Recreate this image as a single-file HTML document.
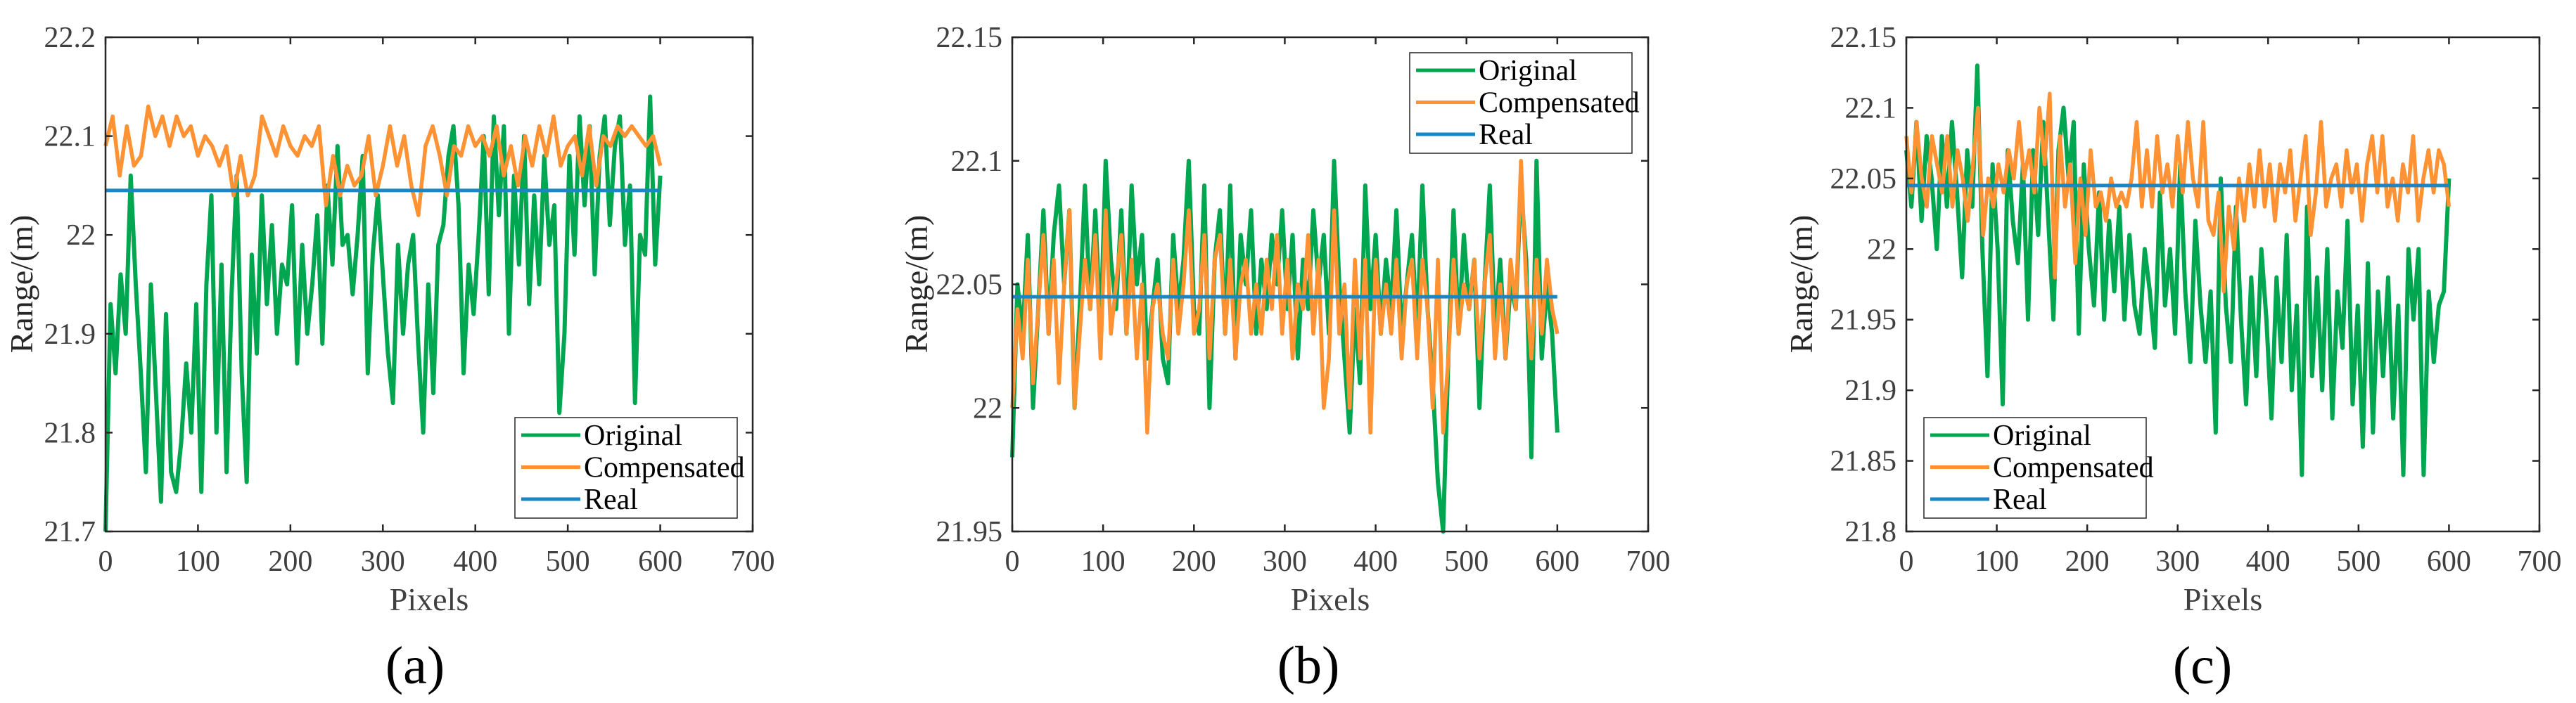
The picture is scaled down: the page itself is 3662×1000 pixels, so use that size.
<!DOCTYPE html>
<html><head><meta charset="utf-8">
<style>
html,body{margin:0;padding:0;background:#fff;}
svg{display:block;font-family:"Liberation Serif","Times New Roman",serif;}
svg text{font-family:"Liberation Serif","Times New Roman",serif !important;}
</style></head>
<body>
<svg id="fig" width="3662" height="1000" viewBox="0 0 3662 1000" xmlns="http://www.w3.org/2000/svg" font-family="Liberation Serif, serif"></svg>
<script>
const xTicks = [0,100,200,300,400,500,600,700];
const realValue = 22.045;
const aTicks = ["21.7","21.8","21.9","22","22.1","22.2"];
const bTicks = ["21.95","22","22.05","22.1","22.15"];
const cTicks = ["21.8","21.85","21.9","21.95","22","22.05","22.1","22.15"];
const aOriginal = [21.70,21.93,21.86,21.96,21.90,22.06,21.95,21.86,21.76,21.95,21.84,21.73,21.92,21.76,21.74,21.79,21.87,21.80,21.93,21.74,21.95,22.04,21.80,21.97,21.76,21.94,22.06,21.86,21.75,21.98,21.88,22.04,21.93,22.01,21.90,21.97,21.95,22.03,21.87,21.99,21.90,21.95,22.02,21.89,22.05,21.97,22.09,21.99,22.00,21.94,22.00,22.08,21.86,21.98,22.04,21.96,21.88,21.83,21.99,21.90,21.97,22.00,21.89,21.80,21.95,21.84,21.99,22.01,22.08,22.11,22.03,21.86,21.97,21.92,22.00,22.10,21.94,22.12,22.02,22.11,21.90,22.06,21.97,22.10,21.93,22.04,21.95,22.08,21.99,22.03,21.82,21.90,22.08,21.98,22.12,22.03,22.11,21.96,22.08,22.12,22.01,22.09,22.12,21.99,22.05,21.83,22.00,21.98,22.14,21.97,22.06];
const aCompensated = [22.09,22.12,22.06,22.11,22.07,22.08,22.13,22.10,22.12,22.09,22.12,22.10,22.11,22.08,22.10,22.09,22.07,22.09,22.04,22.08,22.04,22.06,22.12,22.10,22.08,22.11,22.09,22.08,22.10,22.09,22.11,22.03,22.08,22.04,22.07,22.05,22.06,22.10,22.04,22.07,22.11,22.07,22.10,22.05,22.02,22.09,22.11,22.08,22.04,22.09,22.08,22.11,22.09,22.10,22.08,22.11,22.06,22.09,22.05,22.10,22.07,22.11,22.08,22.12,22.07,22.09,22.10,22.06,22.11,22.05,22.10,22.09,22.11,22.10,22.11,22.10,22.09,22.10,22.07];
const bOriginal = [21.98,22.05,22.03,22.07,22.00,22.04,22.08,22.03,22.07,22.09,22.05,22.08,22.00,22.04,22.09,22.04,22.08,22.03,22.10,22.06,22.04,22.08,22.03,22.09,22.05,22.07,22.02,22.04,22.06,22.02,22.01,22.07,22.04,22.06,22.10,22.04,22.03,22.09,22.00,22.06,22.08,22.03,22.09,22.02,22.07,22.05,22.08,22.03,22.06,22.04,22.07,22.05,22.08,22.04,22.07,22.02,22.06,22.04,22.08,22.05,22.07,22.03,22.10,22.05,22.02,21.99,22.04,22.01,22.09,22.04,22.07,22.03,22.06,22.04,22.08,22.03,22.05,22.07,22.03,22.09,22.04,22.01,21.97,21.95,22.02,22.08,22.03,22.07,22.04,22.06,22.00,22.05,22.09,22.03,22.06,22.02,22.05,22.04,22.09,22.06,21.98,22.10,22.02,22.05,22.03,21.99];
const bCompensated = [22.00,22.04,22.02,22.06,22.01,22.04,22.07,22.03,22.06,22.01,22.05,22.08,22.00,22.03,22.06,22.04,22.07,22.02,22.08,22.03,22.05,22.07,22.03,22.06,22.02,22.05,21.99,22.04,22.05,22.03,22.02,22.06,22.03,22.05,22.08,22.03,22.04,22.07,22.02,22.06,22.07,22.03,22.06,22.02,22.05,22.06,22.03,22.05,22.03,22.06,22.04,22.07,22.03,22.06,22.02,22.05,22.04,22.07,22.03,22.06,22.00,22.02,22.08,22.03,22.05,22.00,22.06,22.02,22.06,21.99,22.06,22.03,22.05,22.03,22.06,22.02,22.05,22.06,22.02,22.06,22.04,22.00,22.06,21.99,22.02,22.06,22.03,22.05,22.04,22.06,22.02,22.05,22.07,22.02,22.05,22.02,22.06,22.04,22.10,22.05,22.02,22.06,22.03,22.06,22.04,22.03];
const cOriginal = [22.07,22.03,22.09,22.02,22.08,22.05,22.00,22.08,22.03,22.09,22.04,21.98,22.07,22.03,22.13,22.00,21.91,22.06,22.00,21.89,22.07,22.02,21.99,22.06,21.95,22.07,22.01,22.09,22.02,21.95,22.07,22.10,22.05,22.09,21.94,22.06,22.00,21.96,22.04,21.95,22.02,21.97,22.03,21.95,22.01,21.96,21.94,22.00,21.97,21.93,22.04,21.96,22.00,21.94,22.06,21.97,21.92,22.02,21.96,21.92,21.97,21.87,22.05,21.96,21.92,22.03,21.95,21.89,21.98,21.91,22.00,21.95,21.88,21.98,21.92,22.01,21.90,21.96,21.84,22.03,21.91,21.98,21.90,22.00,21.88,21.97,21.93,22.02,21.89,21.96,21.86,21.99,21.87,21.97,21.91,21.98,21.88,21.96,21.84,22.00,21.95,22.00,21.84,21.97,21.92,21.96,21.97,22.05];
const cCompensated = [22.08,22.04,22.09,22.05,22.03,22.08,22.06,22.04,22.08,22.03,22.07,22.05,22.02,22.06,22.10,22.01,22.05,22.03,22.06,22.04,22.07,22.05,22.09,22.05,22.07,22.04,22.10,22.06,22.11,21.98,22.08,22.03,22.06,21.99,22.05,22.01,22.07,22.03,22.04,22.02,22.05,22.03,22.04,22.03,22.05,22.09,22.03,22.07,22.03,22.08,22.04,22.06,22.03,22.08,22.04,22.09,22.05,22.03,22.09,22.02,22.01,22.04,21.97,22.03,22.00,22.05,22.02,22.06,22.03,22.07,22.03,22.06,22.02,22.06,22.04,22.07,22.02,22.05,22.08,22.01,22.04,22.09,22.03,22.05,22.06,22.03,22.07,22.04,22.06,22.02,22.06,22.08,22.04,22.08,22.03,22.05,22.02,22.06,22.04,22.08,22.02,22.05,22.07,22.04,22.07,22.06,22.03];

const NS = "http://www.w3.org/2000/svg";
const svg = document.getElementById('fig');
const FONT = "Liberation Serif, serif";
function mk(tag, attrs, parent){
  const e = document.createElementNS(NS, tag);
  for (const k in attrs) e.setAttribute(k, attrs[k]);
  if (tag === 'text') e.setAttribute('font-family', FONT);
  (parent||svg).appendChild(e);
  return e;
}
const GREEN="#00A650", ORANGE="#FF9233", BLUE="#1A87C4";

function panel(cfg){
  const g = mk('g', {});
  
  
  const L=cfg.left, R=cfg.right, T=53, B=756;
  const yMin=parseFloat(cfg.yTicks[0]), yMax=parseFloat(cfg.yTicks[cfg.yTicks.length-1]);
  const xs = v => L + (v-0)/(700-0)*(R-L);
  const ys = v => B - (v-yMin)/(yMax-yMin)*(B-T);
  function series(data, color, w, name){
    const n = data.length;
    let d = '';
    data.forEach((v,i)=>{ d += (i?'L':'M') + xs(i*600/(n-1)).toFixed(1) + ',' + ys(v).toFixed(1); });
    const p = mk('path', {d:d, fill:'none', stroke:color, 'stroke-width':w, 'stroke-linejoin':'round'}, g);
    
    
  }
  series(cfg.orig, GREEN, 6, 'original-line-' + cfg.id);
  series(cfg.comp, ORANGE, 5.5, 'compensated-line-' + cfg.id);
  const rl = mk('line', {x1:xs(0), x2:xs(600), y1:ys(realValue), y2:ys(realValue), stroke:BLUE, 'stroke-width':5}, g);
  
  
  const box = mk('rect', {x:L, y:T, width:R-L, height:B-T, fill:'none', stroke:'#262626', 'stroke-width':2.5}, g);
  
  
  xTicks.forEach(t=>{
    const x = xs(t);
    mk('line', {x1:x,x2:x,y1:B,y2:B-10,stroke:'#262626','stroke-width':2.5}, g);
    mk('line', {x1:x,x2:x,y1:T,y2:T+10,stroke:'#262626','stroke-width':2.5}, g);
    const tx = mk('text', {x:x, y:B+56, 'font-size':42, 'text-anchor':'middle', fill:'#404040'}, g);
    tx.textContent = t;
    
    
  });
  cfg.yTicks.forEach(t=>{
    const y = ys(parseFloat(t));
    mk('line', {x1:L,x2:L+10,y1:y,y2:y,stroke:'#262626','stroke-width':2.5}, g);
    mk('line', {x1:R,x2:R-10,y1:y,y2:y,stroke:'#262626','stroke-width':2.5}, g);
    const ty = mk('text', {x:L-14, y:y+14, 'font-size':42, 'text-anchor':'end', fill:'#404040'}, g);
    ty.textContent = t;
    
    
  });
  const xt = mk('text', {x:(L+R)/2, y:868, 'font-size':46, 'text-anchor':'middle', fill:'#404040'}, g);
  xt.textContent = 'Pixels';
  
  
  const yt = mk('text', {x:0, y:0, 'font-size':46, 'text-anchor':'middle', fill:'#262626', transform:'translate(' + cfg.yTitleX + ',404) rotate(-90)'}, g);
  yt.textContent = 'Range/(m)';
  
  
  const cap = mk('text', {x:cfg.capX, y:972, 'font-size':76, 'text-anchor':'middle', fill:'#000'}, g);
  cap.textContent = cfg.cap;
  
  
  const lg = mk('g', {}, g);
  
  
  const lx = cfg.legX, ly = cfg.legY;
  mk('rect', {x:lx, y:ly, width:316, height:143, fill:'#fff', stroke:'#262626', 'stroke-width':1.5}, lg);
  [['Original',GREEN],['Compensated',ORANGE],['Real',BLUE]].forEach((e,i)=>{
    const yy = ly + 25 + i*45.5;
    mk('line', {x1:lx+9, x2:lx+93, y1:yy, y2:yy, stroke:e[1], 'stroke-width':5}, lg);
    const t = mk('text', {x:lx+98, y:yy+14, 'font-size':42, fill:'#000'}, lg);
    t.textContent = e[0];
    
    
  });
}
panel({id:'a', left:150, right:1070, yTicks:aTicks, orig:aOriginal, comp:aCompensated, legX:732, legY:594, yTitleX:46, capX:590, cap:'(a)'});
panel({id:'b', left:1439, right:2343, yTicks:bTicks, orig:bOriginal, comp:bCompensated, legX:2004, legY:75, yTitleX:1318, capX:1860, cap:'(b)'});
panel({id:'c', left:2710, right:3610, yTicks:cTicks, orig:cOriginal, comp:cCompensated, legX:2735, legY:594, yTitleX:2576, capX:3131, cap:'(c)'});
</script>
</body></html>
